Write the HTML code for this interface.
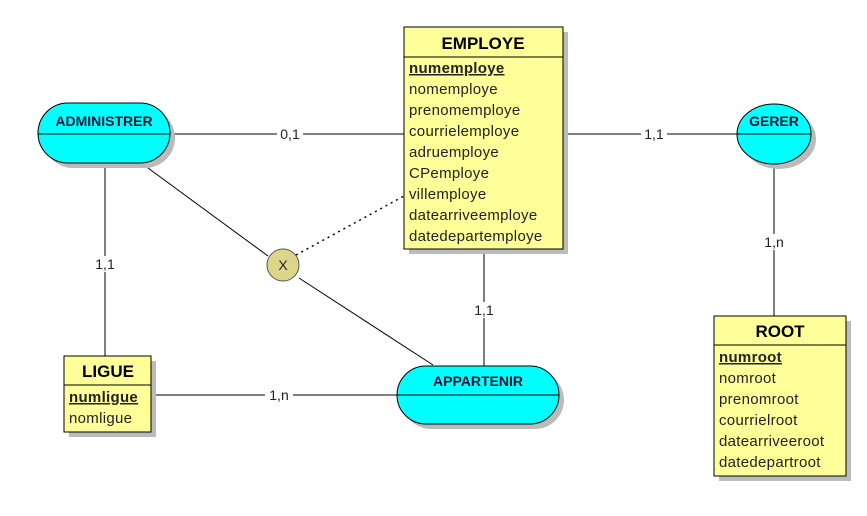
<!DOCTYPE html>
<html><head><style>body{margin:0;background:#fff}svg{display:block}text{font-family:"Liberation Sans",sans-serif}</style></head><body>
<svg width="867" height="516" viewBox="0 0 867 516" xmlns="http://www.w3.org/2000/svg">
<g stroke="#000" stroke-width="1" fill="none">
<line x1="170" y1="134" x2="404" y2="134"/>
<line x1="563" y1="134" x2="737" y2="134"/>
<line x1="774" y1="164" x2="774" y2="316"/>
<line x1="105" y1="164" x2="105" y2="356"/>
<line x1="151" y1="395" x2="397" y2="395"/>
<line x1="484" y1="249" x2="484" y2="366"/>
<line x1="148" y1="168" x2="268" y2="256"/>
<line x1="299" y1="278" x2="433" y2="365"/>
<line x1="296" y1="255" x2="404" y2="196" stroke-dasharray="2,4" stroke-width="1.5"/>
</g>
<g font-size="14" fill="#222" text-anchor="middle">
<rect x="277" y="126" width="26" height="16" fill="#fff"/><text x="290" y="139">0,1</text>
<rect x="641" y="126" width="26" height="16" fill="#fff"/><text x="654" y="139">1,1</text>
<rect x="761" y="234" width="26" height="16" fill="#fff"/><text x="774" y="247">1,n</text>
<rect x="92" y="256" width="26" height="16" fill="#fff"/><text x="105" y="269">1,1</text>
<rect x="471" y="302" width="26" height="16" fill="#fff"/><text x="484" y="315">1,1</text>
<rect x="265" y="387" width="28" height="16" fill="#fff"/><text x="279" y="400">1,n</text>
</g>
<g fill="#bbb">
<rect x="409" y="32" width="159" height="222"/>
<rect x="719" y="321" width="132" height="160"/>
<rect x="69" y="361" width="87" height="76"/>
<rect x="43" y="108" width="132" height="60" rx="30"/>
<ellipse cx="779" cy="139" rx="37" ry="30"/>
<rect x="402" y="371" width="162" height="58" rx="29"/>
</g>
<rect x="404" y="27" width="159" height="222" fill="#ffff99" stroke="#000"/>
<line x1="404" y1="57" x2="563" y2="57" stroke="#000"/>
<text x="483" y="49" font-size="17" font-weight="bold" text-anchor="middle">EMPLOYE</text>
<g font-size="15" fill="#222" letter-spacing="0.3">
<text x="409" y="73" font-weight="bold" text-decoration="underline">numemploye</text>
<text x="409" y="94">nomemploye</text>
<text x="409" y="115">prenomemploye</text>
<text x="409" y="136">courrielemploye</text>
<text x="409" y="157">adruemploye</text>
<text x="409" y="178">CPemploye</text>
<text x="409" y="199">villemploye</text>
<text x="409" y="220">datearriveemploye</text>
<text x="409" y="241">datedepartemploye</text>
</g>
<rect x="714" y="316" width="132" height="160" fill="#ffff99" stroke="#000"/>
<line x1="714" y1="345" x2="846" y2="345" stroke="#000"/>
<text x="780" y="337" font-size="17" font-weight="bold" text-anchor="middle">ROOT</text>
<g font-size="15" fill="#222" letter-spacing="0.3">
<text x="719" y="362" font-weight="bold" text-decoration="underline">numroot</text>
<text x="719" y="383">nomroot</text>
<text x="719" y="404">prenomroot</text>
<text x="719" y="425">courrielroot</text>
<text x="719" y="446">datearriveeroot</text>
<text x="719" y="467">datedepartroot</text>
</g>
<rect x="64" y="356" width="87" height="76" fill="#ffff99" stroke="#000"/>
<line x1="64" y1="385" x2="151" y2="385" stroke="#000"/>
<text x="108" y="377" font-size="17" font-weight="bold" text-anchor="middle">LIGUE</text>
<g font-size="15" fill="#222" letter-spacing="0.3">
<text x="69" y="402" font-weight="bold" text-decoration="underline">numligue</text>
<text x="69" y="423">nomligue</text>
</g>
<rect x="38" y="103" width="132" height="60" rx="30" fill="#00ffff" stroke="#000"/>
<line x1="38" y1="134" x2="170" y2="134" stroke="#000"/>
<text x="104" y="126" font-size="14" font-weight="bold" text-anchor="middle" fill="#113">ADMINISTRER</text>
<ellipse cx="774" cy="134" rx="37" ry="30" fill="#00ffff" stroke="#000"/>
<line x1="737" y1="134" x2="811" y2="134" stroke="#000"/>
<text x="774" y="126" font-size="14" font-weight="bold" text-anchor="middle" fill="#113">GERER</text>
<rect x="397" y="366" width="162" height="58" rx="29" fill="#00ffff" stroke="#000"/>
<line x1="397" y1="395" x2="559" y2="395" stroke="#000"/>
<text x="478" y="386" font-size="14" font-weight="bold" text-anchor="middle" fill="#113">APPARTENIR</text>
<circle cx="283" cy="265" r="16" fill="#dcd68a" stroke="#555"/>
<text x="283" y="270" font-size="14" text-anchor="middle" fill="#222">X</text>
</svg>
</body></html>
